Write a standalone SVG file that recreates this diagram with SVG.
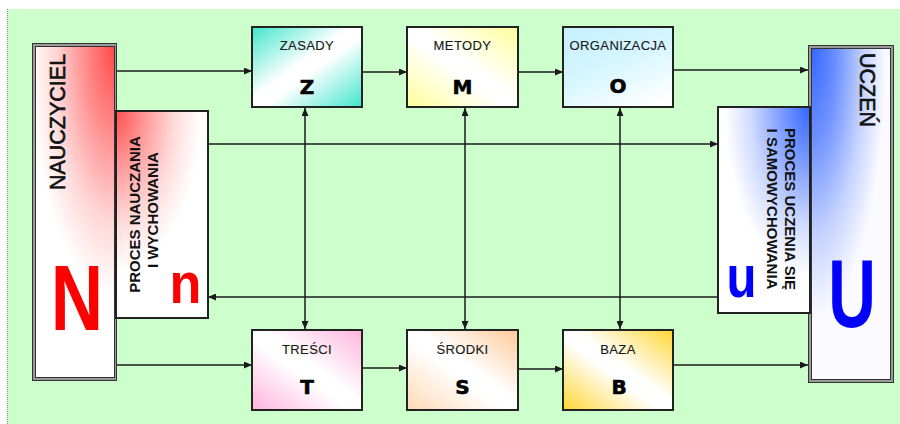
<svg xmlns="http://www.w3.org/2000/svg" width="900" height="424" viewBox="0 0 900 424">
<defs>
<style>
.bx{stroke:#222;stroke-width:2}
.lbl{font-family:"Liberation Sans",Arial,sans-serif;font-size:13px;fill:#1a1a1a;text-anchor:middle;letter-spacing:0.4px;stroke:#1a1a1a;stroke-width:0.15}
.big{font-family:"DejaVu Sans","Liberation Sans",sans-serif;font-weight:bold;font-size:20px;fill:#000;stroke:#000;stroke-width:0.6;text-anchor:middle}
.vt{font-family:"Liberation Sans",Arial,sans-serif;font-weight:bold;font-size:15px;fill:#111;text-anchor:middle}
.ttl{font-family:"Liberation Sans",Arial,sans-serif;font-size:21.5px;fill:#111;stroke:#111;stroke-width:0.6;text-anchor:middle}
.huge{font-family:"Liberation Sans",Arial,sans-serif;font-weight:bold;text-anchor:middle}
.ln{stroke:#1a1a1a;stroke-width:1.5;fill:none}
</style>
<marker id="ah" viewBox="0 0 8 7" refX="8" refY="3.5" markerWidth="8" markerHeight="7" markerUnits="userSpaceOnUse" orient="auto-start-reverse">
<path d="M0,0 L8,3.5 L0,7 z" fill="#1a1a1a"/>
</marker>
<radialGradient id="gN" gradientUnits="userSpaceOnUse" cx="0" cy="0" r="1" gradientTransform="translate(115,46) scale(85,250)">
<stop offset="0" stop-color="#ff4848"/><stop offset="0.35" stop-color="#ff8c8c"/><stop offset="0.7" stop-color="#ffd6d6"/><stop offset="1" stop-color="#ffffff"/>
</radialGradient>
<radialGradient id="gPN" gradientUnits="userSpaceOnUse" cx="0" cy="0" r="1" gradientTransform="translate(116,111) scale(85,160)">
<stop offset="0" stop-color="#ff5050"/><stop offset="0.35" stop-color="#ff9a9a"/><stop offset="0.7" stop-color="#ffdcdc"/><stop offset="1" stop-color="#ffffff"/>
</radialGradient>
<radialGradient id="gU" gradientUnits="userSpaceOnUse" cx="0" cy="0" r="1" gradientTransform="translate(811,48) scale(75,270)">
<stop offset="0" stop-color="#3366ff"/><stop offset="0.35" stop-color="#6f92ff"/><stop offset="0.7" stop-color="#c4d2ff"/><stop offset="1" stop-color="#fafaff"/>
</radialGradient>
<radialGradient id="gPU" gradientUnits="userSpaceOnUse" cx="0" cy="0" r="1" gradientTransform="translate(810,107) scale(85,170)">
<stop offset="0" stop-color="#3366ff"/><stop offset="0.35" stop-color="#7f9eff"/><stop offset="0.7" stop-color="#d0dbff"/><stop offset="1" stop-color="#ffffff"/>
</radialGradient>
<linearGradient id="gZ" x1="0" y1="0" x2="1" y2="1">
<stop offset="0" stop-color="#40e6cc"/><stop offset="0.45" stop-color="#ffffff"/><stop offset="0.55" stop-color="#ffffff"/><stop offset="1" stop-color="#40e6cc"/>
</linearGradient>
<linearGradient id="gM" x1="0" y1="1" x2="1" y2="0">
<stop offset="0" stop-color="#ffff99"/><stop offset="0.45" stop-color="#ffffff"/><stop offset="0.55" stop-color="#ffffff"/><stop offset="1" stop-color="#ffff99"/>
</linearGradient>
<linearGradient id="gO" x1="0.2" y1="0" x2="0.8" y2="1">
<stop offset="0" stop-color="#c8f0ff"/><stop offset="0.45" stop-color="#d6f6ff"/><stop offset="1" stop-color="#ffffff"/>
</linearGradient>
<linearGradient id="gT" x1="0" y1="1" x2="1" y2="0">
<stop offset="0" stop-color="#ffb3dd"/><stop offset="0.45" stop-color="#ffffff"/><stop offset="0.55" stop-color="#ffffff"/><stop offset="1" stop-color="#ffb3dd"/>
</linearGradient>
<linearGradient id="gS" x1="0" y1="1" x2="1" y2="0">
<stop offset="0" stop-color="#ffd9b3"/><stop offset="0.45" stop-color="#ffffff"/><stop offset="0.55" stop-color="#ffffff"/><stop offset="1" stop-color="#ffc999"/>
</linearGradient>
<linearGradient id="gB" x1="0" y1="1" x2="1" y2="0">
<stop offset="0" stop-color="#ffd633"/><stop offset="0.45" stop-color="#ffffff"/><stop offset="0.55" stop-color="#ffffff"/><stop offset="1" stop-color="#ffd633"/>
</linearGradient>
</defs>

<rect x="0" y="0" width="900" height="424" fill="#ffffff"/>
<rect x="7" y="9" width="893" height="415" fill="#ccffcc"/>
<line x1="7.5" y1="9" x2="7.5" y2="424" stroke="#8a9a8a" stroke-width="1" stroke-dasharray="1,1"/>

<g id="connectors">
<line class="ln" x1="117" y1="71" x2="252" y2="71" marker-end="url(#ah)"/>
<line class="ln" x1="362" y1="72" x2="407" y2="72" marker-end="url(#ah)"/>
<line class="ln" x1="518" y1="72" x2="563" y2="72" marker-end="url(#ah)"/>
<line class="ln" x1="673" y1="70" x2="808" y2="70" marker-end="url(#ah)"/>
<line class="ln" x1="208" y1="144" x2="718" y2="144" marker-end="url(#ah)"/>
<line class="ln" x1="718" y1="297" x2="208" y2="297" marker-end="url(#ah)"/>
<line class="ln" x1="117" y1="365" x2="252" y2="365" marker-end="url(#ah)"/>
<line class="ln" x1="362" y1="368" x2="407" y2="368" marker-end="url(#ah)"/>
<line class="ln" x1="518" y1="369" x2="563" y2="369" marker-end="url(#ah)"/>
<line class="ln" x1="673" y1="365" x2="808" y2="365" marker-end="url(#ah)"/>
<line class="ln" x1="305" y1="108" x2="305" y2="329" marker-start="url(#ah)" marker-end="url(#ah)"/>
<line class="ln" x1="465" y1="108" x2="465" y2="329" marker-start="url(#ah)" marker-end="url(#ah)"/>
<line class="ln" x1="620" y1="108" x2="620" y2="329" marker-start="url(#ah)" marker-end="url(#ah)"/>
</g>

<g id="nauczyciel">
<rect x="32.5" y="43.5" width="84" height="337" fill="#9a9a9a" stroke="#333" stroke-width="1"/>
<rect x="35.5" y="46.5" width="79" height="331" fill="url(#gN)" stroke="#333" stroke-width="1"/>
<text class="ttl" transform="translate(65,122) rotate(-90)">NAUCZYCIEL</text>
<text class="huge" font-size="93" fill="#ff0000" transform="translate(77,330) scale(0.78,1)">N</text>
</g>

<g id="proces-nauczania">
<rect class="bx" x="116" y="111" width="92" height="207" fill="url(#gPN)"/>
<text class="vt" transform="translate(139.5,214.5) rotate(-90)">PROCES NAUCZANIA</text>
<text class="vt" transform="translate(157.5,210) rotate(-90)">I WYCHOWANIA</text>
<text class="huge" font-size="58" fill="#ff0000" transform="translate(185.5,303) scale(0.9,1)">n</text>
</g>

<g id="zasady">
<rect class="bx" x="252" y="27" width="110" height="80" fill="url(#gZ)"/>
<text class="lbl" x="307" y="50">ZASADY</text>
<text class="big" x="307" y="94">Z</text>
</g>

<g id="metody">
<rect class="bx" x="407" y="27" width="111" height="80" fill="url(#gM)"/>
<text class="lbl" x="462.5" y="50">METODY</text>
<text class="big" x="462.5" y="94">M</text>
</g>

<g id="organizacja">
<rect class="bx" x="563" y="27" width="110" height="80" fill="url(#gO)"/>
<text class="lbl" x="618" y="50">ORGANIZACJA</text>
<text class="big" x="618" y="93">O</text>
</g>

<g id="tresci">
<rect class="bx" x="252" y="330" width="110" height="80" fill="url(#gT)"/>
<text class="lbl" x="307" y="354">TREŚCI</text>
<text class="big" x="307" y="394">T</text>
</g>

<g id="srodki">
<rect class="bx" x="407" y="330" width="111" height="80" fill="url(#gS)"/>
<text class="lbl" x="462.5" y="354">ŚRODKI</text>
<text class="big" x="462.5" y="394">S</text>
</g>

<g id="baza">
<rect class="bx" x="563" y="330" width="110" height="80" fill="url(#gB)"/>
<text class="lbl" x="618" y="354">BAZA</text>
<text class="big" x="619" y="394">B</text>
</g>

<g id="uczen">
<rect x="808.5" y="45.5" width="85" height="337" fill="#9a9a9a" stroke="#333" stroke-width="1"/>
<rect x="811.5" y="48.5" width="79" height="331" fill="url(#gU)" stroke="#333" stroke-width="1"/>
<text class="ttl" font-size="21" transform="translate(860,90) rotate(90)">UCZEŃ</text>
<text class="huge" font-size="97" fill="#0000ff" transform="translate(852,327) scale(0.68,1)">U</text>
</g>

<g id="proces-uczenia">
<rect class="bx" x="718" y="107" width="92" height="206" fill="url(#gPU)"/>
<text class="vt" transform="translate(785,209) rotate(90)">PROCES UCZENIA SIĘ</text>
<text class="vt" transform="translate(767,209) rotate(90)">I SAMOWYCHOWANIA</text>
<text class="huge" font-size="60" fill="#0000ff" transform="translate(741.5,297) scale(0.82,1)">u</text>
</g>
</svg>
